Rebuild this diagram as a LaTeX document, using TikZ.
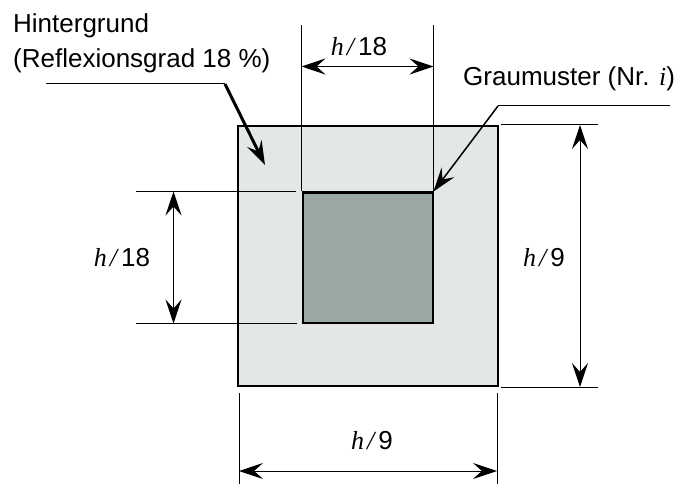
\documentclass[tikz,border=0pt]{standalone}
\usepackage{fontspec}
\setmainfont{Liberation Sans}
\newfontfamily\hfont{Liberation Serif}
\usetikzlibrary{arrows.meta,positioning}
\definecolor{bggray}{RGB}{227,231,229}
\definecolor{patgray}{RGB}{153,168,165}
\newcommand{\hdim}[1]{{\hfont\itshape h\kern3pt/\kern4pt}#1}

\begin{document}
\begin{tikzpicture}[x=1pt,y=-1pt,>={Stealth[length=24pt,width=16pt,inset=9pt]},
  every node/.style={font=\fontsize{26}{35}\selectfont,inner sep=0pt},
  square/.style={draw,line width=2pt,minimum size=#1,inner sep=0pt},
  thin line/.style={line width=1pt}]
  \useasboundingbox (0,0) rectangle (683,484);
  \node[square=260pt,fill=bggray] (bg) at (368,256) {};
  \node[square=130pt,fill=patgray] (pat) at (367.5,257.5) {};
  \coordinate (t1) at ([yshift=166pt]pat.north west);
  \coordinate (t2) at ([yshift=166pt]pat.north east);
  \coordinate (l1) at ([xshift=-166pt]pat.north west);
  \coordinate (l2) at ([xshift=-166pt]pat.south west);
  \coordinate (r1) at ([xshift=99pt]bg.north east);
  \coordinate (r2) at ([xshift=99pt]bg.south east);
  \coordinate (b1) at ([shift={(2pt,-98pt)}]bg.south west);
  \coordinate (b2) at ([shift={(-2pt,-98pt)}]bg.south east);
  \draw[thin line]
    (pat.north west) -- (t1)  (pat.north east) -- (t2)
    ([xshift=-6pt]pat.north west) -- (l1)  ([xshift=-5pt]pat.south west) -- (l2)
    ([xshift=2pt]bg.north east) -- (r1)  ([xshift=2pt]bg.south east) -- (r2)
    ([shift={(2pt,-6pt)}]bg.south west) -- (b1)  ([shift={(-2pt,-6pt)}]bg.south east) -- (b2);
  \draw[thin line,<->] ([yshift=-41pt]t1) -- ([yshift=-41pt]t2);
  \draw[thin line,<->] ([xshift=38pt]l1) -- ([xshift=38pt]l2);
  \draw[thin line,<->] ([xshift=-18pt]r1) -- ([xshift=-18pt]r2);
  \draw[thin line,<->] ([yshift=14pt]b1) -- ([yshift=14pt]b2);
  \node (dimtop) at (359,47) {\hdim{18}};
  \node (dimleft) at (122,258) {\hdim{18}};
  \node (dimright) at (544,258) {\hdim{9}};
  \node (dimbottom) at (372,441) {\hdim{9}};
  \node[anchor=base west,align=left] (bgtext) at (13,68) {Hintergrund\\(Reflexionsgrad 18 \%)};
  \node[anchor=base west] (pattext) at (463,86) {Graumuster (Nr. {\hfont\itshape i})};
  \coordinate (bgk) at (225,84);
  \coordinate (patk) at (498,106);
  \draw[thin line] (46,84) -- (bgk);
  \draw[line width=3pt,->] (bgk) -- (265,165);
  \draw[thin line] (670,106) -- (patk);
  \draw[line width=1.5pt,->] (patk) -- (pat.north east);
\end{tikzpicture}
\end{document}
